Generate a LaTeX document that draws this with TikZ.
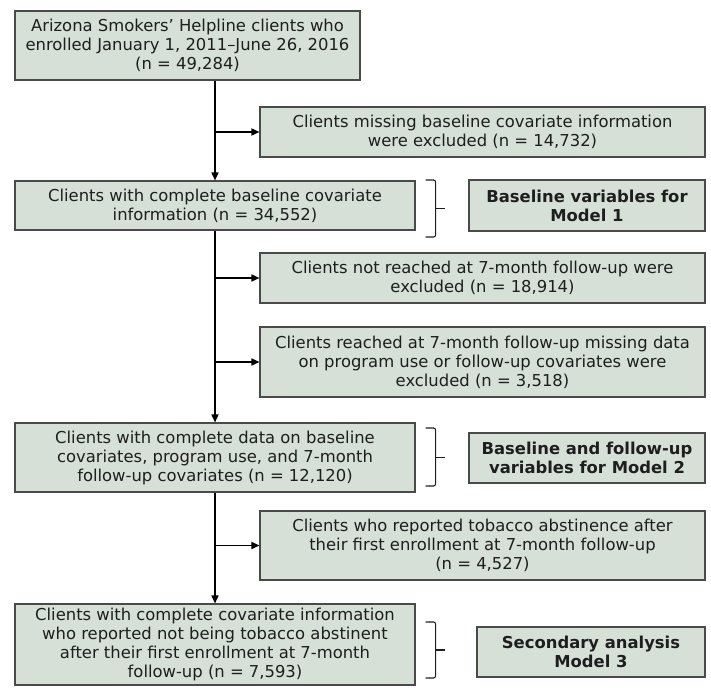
\documentclass[tikz,border=0pt]{standalone}
\usepackage{fontspec}
\setmainfont{DejaVu Sans}
\usetikzlibrary{arrows.meta,positioning,calc}
\definecolor{ink}{HTML}{1E1E1E}
\definecolor{edge}{HTML}{4A4A4A}
\definecolor{sage}{HTML}{D7E0D7}
\tikzset{
  flowbox/.style={
    draw=edge,
    fill=sage,
    line width=1.1pt,
    text=ink,
    align=center,
    inner sep=0pt,
    font=\fontsize{16.4}{19}\selectfont
  },
  modelbox/.style={flowbox, font=\fontsize{16.4}{19}\selectfont\bfseries},
  flowarrow/.style={-{Triangle[length=8pt,width=7pt]}, line width=1.6pt, draw=black},
  bracket/.style={line width=1.1pt, draw=ink, rounded corners=2pt}
}

\begin{document}
\begin{tikzpicture}[x=1pt,y=-1pt]
        \useasboundingbox (0,0) rectangle (711,687);
        % main column
        \node[flowbox, minimum width=345pt, minimum height=69pt] (start) at (187.5,45.5)
          {Arizona Smokers’ Helpline clients who\\enrolled January 1, 2011–June 26, 2016\\(n = 49,284)};
        \node[flowbox, minimum width=400pt, minimum height=49pt] (base) at (215,205.5)
          {Clients with complete baseline covariate\\information (n = 34,552)};
        \node[flowbox, minimum width=400pt, minimum height=69pt] (full) at (215,457.5)
          {Clients with complete data on baseline\\covariates, program use, and 7-month\\follow-up covariates (n = 12,120)};
        \node[flowbox, minimum width=400pt, minimum height=81pt] (final) at (215,644.5)
          {Clients with complete covariate information\\who reported not being tobacco abstinent\\after their first enrollment at 7-month\\follow-up (n = 7,593)};

        % exclusions
        \node[flowbox, minimum width=445pt, minimum height=50pt] (excl1) at (482.5,132)
          {Clients missing baseline covariate information\\were excluded (n = 14,732)};
        \node[flowbox, minimum width=445pt, minimum height=50pt] (excl2) at (482.5,278)
          {Clients not reached at 7-month follow-up were\\excluded (n = 18,914)};
        \node[flowbox, minimum width=445pt, minimum height=70pt] (excl3) at (482.5,362)
          {Clients reached at 7-month follow-up missing data\\on program use or follow-up covariates were\\excluded (n = 3,518)};
        \node[flowbox, minimum width=445pt, minimum height=69pt] (excl4) at (482.5,545.5)
          {Clients who reported tobacco abstinence after\\their first enrollment at 7-month follow-up\\(n = 4,527)};

        % models
        \node[modelbox, minimum width=236pt, minimum height=51pt] (m1) at (587,205.5)
          {Baseline variables for\\Model 1};
        \node[modelbox, minimum width=236pt, minimum height=50pt] (m2) at (587,458)
          {Baseline and follow-up\\variables for Model 2};
        \node[modelbox, minimum width=228pt, minimum height=50pt] (m3) at (591,652)
          {Secondary analysis\\Model 3};

        % trunk
        \draw[flowarrow] (start.south -| base.north) -- (base.north);
        \draw[flowarrow] (base.south) -- (full.north);
        \draw[flowarrow] (full.south) -- (final.north);

        % side branches
        \draw[flowarrow] (excl1.west -| base) -- (excl1.west);
        \draw[flowarrow] (excl2.west -| base) -- (excl2.west);
        \draw[flowarrow] (excl3.west -| base) -- (excl3.west);
        \draw[flowarrow] (excl4.west -| base) -- (excl4.west);

        % brackets
        \draw[bracket] ([xshift=10pt,yshift=25.5pt]base.east) -| ([xshift=20pt,yshift=-31.5pt]base.east) -- ++(-10,0);
        \draw[bracket] ([xshift=20pt,yshift=-3pt]base.east) -- ++(9,0);
        \draw[bracket] ([xshift=10pt,yshift=29.5pt]full.east) -| ([xshift=20pt,yshift=-28.5pt]full.east) -- ++(-10,0);
        \draw[bracket] ([xshift=20pt]full.east) -- ++(9,0);
        \draw[bracket] ([xshift=10pt,yshift=22.5pt]final.east) -| ([xshift=20pt,yshift=-33.5pt]final.east) -- ++(-10,0);
        \draw[bracket] ([xshift=20pt,yshift=-5.5pt]final.east) -- ++(9,0);
      \end{tikzpicture}
\end{document}
